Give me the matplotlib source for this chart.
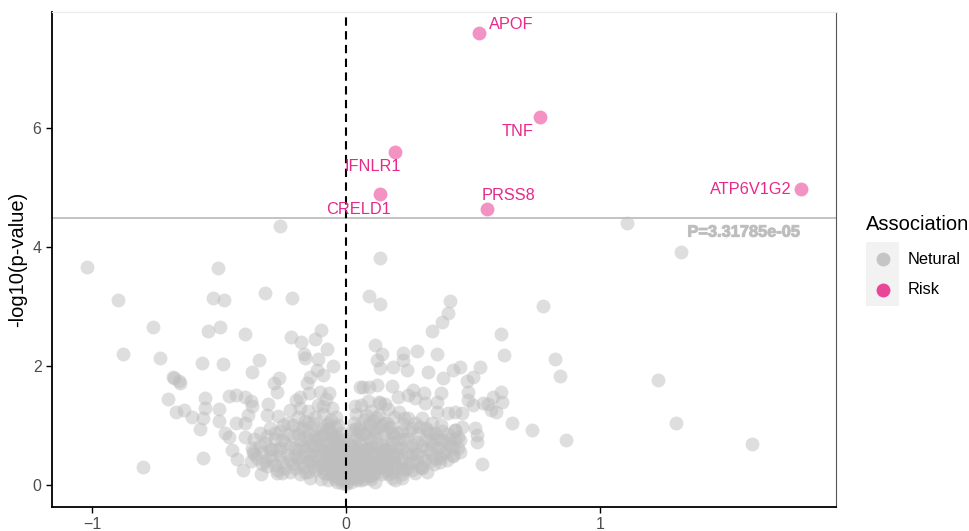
import matplotlib.pyplot as plt
from matplotlib.lines import Line2D
from matplotlib.patches import Rectangle
import matplotlib.patheffects as pe
import numpy as np

plt.rcParams['font.family'] = ['Liberation Sans', 'DejaVu Sans']

# genes passing the threshold
risk_genes = ["APOF", "TNF", "IFNLR1", "CRELD1", "PRSS8", "ATP6V1G2"]
risk_x = [0.524, 0.764, 0.193, 0.134, 0.555, 1.791]
risk_y = [7.60, 6.18, 5.60, 4.89, 4.64, 4.97]

# everything else (effect size, -log10 p)
neutral_x = [
    -1.02, -0.504, -0.898, -0.524, -0.480, -0.760, -0.543, -0.496, -0.878, -0.732,
    -0.567, -0.484, -0.681, -0.657, -0.260, -0.318, -0.211, -0.396, -0.217, -0.176,
    -0.100, -0.122, -0.165, -0.161, -0.075, -0.109, -0.050, -0.341, -0.370, -0.265,
    -0.283, -0.270, -0.155, -0.142, -0.115, -0.089, -0.678, -0.654, -0.701, -0.554,
    -0.667, -0.639, -0.607, -0.562, -0.500, -0.553, -0.500, -0.575, -0.459, -0.434,
    -0.396, -0.369, -0.375, -0.308, -0.433, -0.396, -0.384, -0.475, -0.459, -0.398,
    -0.450, -0.428, -0.562, -0.799, -0.404, -0.335, -0.273, -0.375, -0.365, -0.330,
    -0.312, -0.266, -0.247, -0.220, -0.197, -0.181, -0.144, -0.102, -0.066,
    # right of zero
    0.134, 0.091, 0.136, 0.409, 0.403, 0.379, 0.337, 0.777, 0.610, 0.622,
    0.823, 0.843, 0.865, 0.534, 0.731, 0.655, 0.610, 0.613, 0.580, 0.560,
    0.591, 0.570, 0.528, 0.501, 0.475, 0.449, 0.423, 0.383, 0.360, 0.324,
    0.278, 0.223, 0.239, 0.226, 0.186, 0.140, 0.114, 0.121, 0.136, 0.180,
    0.121, 0.091, 0.068, 0.055, 0.244, 0.376, 0.357, 0.309, 0.311, 0.265,
    0.272, 0.206, 0.154, 0.130, 0.035, 0.482, 0.482, 0.501, 0.540, 0.455,
    0.429, 0.403, 0.357, 0.508, 0.514, 0.514, 0.455, 0.429, 0.449, 0.423,
    0.396, 0.370, 0.337, 0.298, 0.219, 0.193,
    1.227, 1.301, 1.598, 1.106, 1.318,
    # dense core, left
    -0.37, -0.36, -0.35, -0.34, -0.33, -0.32, -0.31, -0.30, -0.30, -0.29,
    -0.28, -0.27, -0.27, -0.26, -0.25, -0.24, -0.23, -0.23, -0.22, -0.21,
    -0.21, -0.20, -0.19, -0.19, -0.18, -0.18, -0.17, -0.17, -0.16, -0.15,
    -0.15, -0.14, -0.14, -0.13, -0.13, -0.12, -0.12, -0.11, -0.11, -0.10,
    -0.10, -0.095, -0.09, -0.09, -0.085, -0.08, -0.08, -0.075, -0.07, -0.07,
    -0.065, -0.06, -0.06, -0.055, -0.05, -0.05, -0.045, -0.04, -0.04, -0.035,
    -0.035, -0.03, -0.03, -0.025, -0.02, -0.02, -0.015, -0.015, -0.01, -0.01,
    -0.005, -0.005,
    -0.36, -0.34, -0.32, -0.31, -0.29, -0.28, -0.26, -0.25, -0.24, -0.22,
    -0.21, -0.20, -0.19, -0.18, -0.17, -0.16, -0.16, -0.15, -0.14, -0.13,
    -0.12, -0.11, -0.10, -0.10, -0.09, -0.08, -0.08, -0.07, -0.06, -0.06,
    -0.05, -0.05, -0.04, -0.04, -0.03, -0.03, -0.02, -0.02, -0.01, -0.01,
    -0.30, -0.28, -0.26, -0.25, -0.23, -0.22, -0.20, -0.19, -0.18, -0.17,
    -0.16, -0.15, -0.14, -0.13, -0.12, -0.11, -0.10, -0.09, -0.085, -0.08,
    -0.07, -0.065, -0.06, -0.05, -0.045, -0.04, -0.035, -0.03, -0.025, -0.02,
    -0.015, -0.01, -0.005, -0.18, -0.15, -0.12, -0.09, -0.07, -0.04, -0.02,
    # dense core, right
    0.005, 0.01, 0.015, 0.02, 0.02, 0.025, 0.03, 0.03, 0.035, 0.04,
    0.04, 0.045, 0.05, 0.05, 0.055, 0.06, 0.06, 0.065, 0.07, 0.07,
    0.075, 0.08, 0.08, 0.085, 0.09, 0.09, 0.095, 0.10, 0.10, 0.105,
    0.11, 0.115, 0.12, 0.12, 0.125, 0.13, 0.135, 0.14, 0.14, 0.145,
    0.15, 0.155, 0.16, 0.16, 0.165, 0.17, 0.175, 0.18, 0.18, 0.19,
    0.19, 0.20, 0.20, 0.21, 0.21, 0.22, 0.22, 0.225, 0.23, 0.24,
    0.24, 0.245, 0.25, 0.26, 0.26, 0.27, 0.27, 0.28, 0.285, 0.29,
    0.30, 0.30, 0.31, 0.315, 0.32, 0.33, 0.33, 0.34, 0.345, 0.35,
    0.36, 0.37, 0.375, 0.38, 0.39, 0.40, 0.41, 0.42, 0.43, 0.44,
    0.45,
    0.01, 0.02, 0.03, 0.04, 0.05, 0.05, 0.06, 0.07, 0.07, 0.08,
    0.09, 0.10, 0.10, 0.11, 0.12, 0.13, 0.13, 0.14, 0.15, 0.16,
    0.17, 0.17, 0.18, 0.19, 0.20, 0.21, 0.22, 0.23, 0.24, 0.25,
    0.26, 0.27, 0.28, 0.29, 0.30, 0.31, 0.32, 0.33, 0.35, 0.36,
    0.37, 0.38, 0.40, 0.42, 0.44,
    0.005, 0.01, 0.015, 0.02, 0.025, 0.03, 0.035, 0.04, 0.045, 0.05,
    0.055, 0.06, 0.065, 0.07, 0.075, 0.08, 0.085, 0.09, 0.095, 0.10,
    0.105, 0.11, 0.12, 0.125, 0.13, 0.14, 0.15, 0.155, 0.16, 0.17,
    0.18, 0.19, 0.20, 0.21, 0.22, 0.23, 0.25, 0.26, 0.28, 0.30,
    0.32, 0.34, 0.36, 0.38, 0.41, 0.43, 0.02, 0.06, 0.10, 0.14,
    0.18, 0.22, 0.26,
    # around zero
    -0.08, -0.06, -0.05, -0.04, -0.03, -0.02, -0.01, 0.0, 0.01, 0.02,
    0.03, 0.04, 0.05, 0.06, 0.08, 0.09, 0.11, 0.12, 0.14, 0.15,
    -0.12, -0.14, 0.16, 0.18,
]
neutral_y = [
    3.66, 3.65, 3.11, 3.14, 3.11, 2.66, 2.59, 2.66, 2.20, 2.13,
    2.05, 2.03, 1.82, 1.75, 4.35, 3.22, 3.15, 2.53, 2.49, 2.40,
    2.61, 2.45, 2.21, 2.13, 2.29, 2.12, 2.00, 2.10, 1.90, 1.79,
    1.72, 1.56, 1.71, 1.82, 1.93, 1.85, 1.79, 1.72, 1.44, 1.47,
    1.23, 1.26, 1.14, 1.12, 1.28, 1.30, 1.07, 0.94, 1.50, 1.52,
    1.48, 1.33, 1.41, 1.36, 1.05, 1.04, 1.17, 0.87, 0.81, 0.81,
    0.59, 0.43, 0.46, 0.30, 0.26, 0.18, 0.20, 0.40, 0.56, 0.36,
    1.18, 1.16, 1.01, 1.26, 1.43, 1.48, 1.54, 1.57, 1.54,
    # right of zero
    3.82, 3.18, 3.05, 3.09, 2.89, 2.74, 2.59, 3.01, 2.53, 2.18,
    2.12, 1.83, 0.76, 0.35, 0.93, 1.05, 1.56, 1.40, 1.48, 1.36,
    1.23, 1.26, 1.99, 1.81, 1.74, 1.98, 1.93, 1.79, 2.21, 1.90,
    2.26, 2.22, 1.93, 2.10, 1.98, 2.21, 2.35, 2.10, 1.96, 1.66,
    1.68, 1.65, 1.64, 1.65, 1.51, 1.55, 1.40, 1.55, 1.38, 1.60,
    1.46, 1.48, 1.36, 1.40, 1.32, 1.57, 1.43, 1.34, 1.38, 1.21,
    1.23, 1.21, 1.23, 0.95, 0.84, 0.73, 0.98, 0.92, 0.76, 0.48,
    0.42, 0.39, 0.42, 0.28, 0.11, 0.08,
    1.76, 1.04, 0.69, 4.41, 3.91,
    # dense core, left
    0.62, 0.78, 0.45, 0.88, 0.55, 0.70, 0.32, 0.95, 0.60, 0.42,
    0.78, 0.25, 0.58, 0.90, 0.38, 0.70, 0.50, 1.05, 0.22, 0.82,
    0.35, 0.62, 1.15, 0.45, 0.18, 0.75, 0.95, 0.30, 0.58, 1.25,
    0.40, 0.12, 0.85, 0.65, 1.05, 0.25, 0.48, 1.35, 0.78, 0.10,
    0.35, 0.95, 0.58, 1.20, 0.20, 1.45, 0.72, 0.42, 0.08, 1.05,
    0.30, 0.85, 0.55, 1.30, 0.15, 0.65, 0.40, 0.95, 1.15, 0.05,
    0.25, 0.75, 0.50, 0.12, 0.35, 0.88, 0.03, 0.60, 0.20, 0.45,
    0.08, 0.30,
    0.52, 0.66, 0.40, 0.82, 0.60, 0.33, 0.48, 0.76, 0.28, 0.64,
    1.00, 0.48, 0.86, 0.38, 0.66, 0.22, 1.08, 0.75, 0.52, 0.32,
    0.92, 0.58, 0.82, 0.50, 0.28, 1.00, 0.55, 0.68, 0.18, 1.10,
    0.42, 0.82, 0.28, 0.60, 0.15, 1.00, 0.55, 0.22, 0.68, 0.12,
    0.48, 0.88, 0.62, 0.20, 0.85, 0.42, 0.28, 0.60, 0.95, 0.48,
    0.80, 0.22, 0.65, 0.42, 1.15, 0.30, 0.70, 0.85, 0.40, 0.20,
    0.58, 0.95, 0.32, 0.78, 0.10, 0.48, 0.68, 0.25, 0.62, 0.45,
    0.35, 0.78, 0.18, 1.30, 1.05, 0.82, 1.32, 0.92, 0.82, 0.65,
    # dense core, right
    0.05, 0.25, 0.55, 0.12, 0.85, 0.40, 1.05, 0.18, 0.65, 0.30,
    1.20, 0.08, 0.50, 0.90, 0.22, 1.35, 0.70, 0.40, 0.10, 1.10,
    0.58, 0.30, 0.88, 1.42, 0.45, 0.15, 1.00, 0.65, 1.25, 0.28,
    0.80, 0.05, 0.52, 1.15, 0.35, 0.95, 1.38, 0.18, 0.68, 0.42,
    1.05, 0.85, 0.25, 0.58, 1.28, 0.40, 0.98, 0.12, 0.72, 1.15,
    0.50, 0.30, 0.88, 1.22, 0.62, 0.18, 0.42, 1.02, 0.78, 0.55,
    0.28, 1.12, 0.90, 0.38, 0.68, 0.20, 1.05, 0.52, 0.85, 0.30,
    1.12, 0.65, 0.42, 0.95, 0.22, 0.75, 0.55, 1.05, 0.35, 0.88,
    0.62, 0.45, 1.00, 0.75, 0.55, 0.85, 0.65, 0.50, 0.78, 0.62,
    0.55,
    0.15, 0.65, 0.35, 0.95, 0.20, 0.72, 0.45, 0.85, 0.25, 0.60,
    1.05, 0.40, 0.15, 0.92, 0.70, 0.28, 1.18, 0.55, 0.32, 0.75,
    0.18, 0.95, 0.48, 0.82, 0.62, 0.38, 0.90, 0.25, 0.78, 0.48,
    0.95, 0.62, 0.40, 0.98, 0.30, 0.75, 0.60, 0.88, 0.45, 0.78,
    0.62, 0.90, 0.70, 0.62, 0.80,
    0.38, 0.70, 0.20, 0.48, 0.92, 0.60, 0.28, 0.80, 0.52, 0.32,
    0.98, 0.15, 0.85, 0.50, 0.28, 1.18, 0.62, 0.35, 0.78, 0.50,
    1.08, 0.20, 0.88, 0.62, 0.45, 1.00, 0.60, 0.38, 1.05, 0.62,
    0.88, 0.38, 0.50, 0.78, 0.62, 1.12, 0.35, 0.52, 0.72, 0.48,
    0.92, 0.68, 0.82, 0.52, 0.78, 0.92, 0.05, 0.08, 0.10, 0.32,
    0.22, 0.28, 0.25,
    # around zero
    0.35, 0.48, 0.22, 0.70, 0.38, 0.10, 0.55, 0.02, 0.40, 0.30,
    0.50, 0.12, 0.35, 0.58, 0.45, 0.62, 0.20, 0.38, 0.48, 0.22,
    0.65, 0.42, 0.52, 0.30,
]

p_cut = 3.31785e-05
pink = '#E7298A'
grey = '#BEBEBE'

fig = plt.figure(figsize=(9.69, 5.31), dpi=100)
ax = fig.add_axes([52 / 969, 24 / 531, 784 / 969, 495 / 531])

ax.scatter(neutral_x, neutral_y, s=100, c=grey, alpha=0.5, linewidths=0, zorder=2)
ax.scatter(risk_x, risk_y, s=100, c=pink, alpha=0.5, linewidths=0, zorder=3)

ax.axhline(-np.log10(p_cut), color='#BEBEBE', lw=1.3, zorder=1)
ax.axvline(0, color='black', lw=1.5, ls=(0, (4, 2.6)), zorder=4)

# gene labels
offsets = {
    "APOF": (10, 8, 'left'),
    "TNF": (-22, -14, 'center'),
    "IFNLR1": (-22, -15, 'center'),
    "CRELD1": (-22, -15, 'center'),
    "PRSS8": (22, 13, 'center'),
    "ATP6V1G2": (-9, 0, 'right'),
}
for g, x, y in zip(risk_genes, risk_x, risk_y):
    dx, dy, ha = offsets[g]
    ax.annotate(g, (x, y), xytext=(dx, dy), textcoords='offset pixels',
                ha=ha, va='center', color=pink, fontsize=11.8, zorder=5)

ax.text(1.787, 4.25, "P=3.31785e-05", ha='right', va='center', color='#BDBDBD',
        fontsize=11.8, fontweight='bold',
        path_effects=[pe.withStroke(linewidth=0.8, foreground='#C4C4C4')])

ax.set_xlim(-1.157, 1.929)
ax.set_ylim(-0.37, 7.95)
ax.set_xticks([-1, 0, 1])
ax.set_yticks([0, 2, 4, 6])
ax.tick_params(colors='black', labelcolor='#4D4D4D', labelsize=11.5, length=4, width=1)
ax.set_ylabel("-log10(p-value)", fontsize=14.5)
ax.yaxis.set_label_coords(-0.032, 0.5)

for side in ('left', 'bottom'):
    ax.spines[side].set_linewidth(1.3)
ax.spines['top'].set_color('#EBEBEB')
ax.spines['top'].set_linewidth(0.8)
ax.spines['right'].set_color('#555555')
ax.spines['right'].set_linewidth(0.8)

# legend
fig.text(866 / 969, 1 - 225 / 531, "Association", fontsize=14.5, va='center', ha='left')
fig.add_artist(Rectangle((866 / 969, 1 - 306 / 531), 33 / 969, 64 / 531,
                         transform=fig.transFigure, color='#F2F2F2', lw=0))
for i, (lab, col) in enumerate([("Netural", grey), ("Risk", pink)]):
    yy = 1 - (259 + 31 * i) / 531
    fig.add_artist(Line2D([883 / 969], [yy], marker='o', markersize=10, color=col,
                          alpha=0.85, markeredgewidth=0, transform=fig.transFigure))
    fig.text(908 / 969, yy, lab, fontsize=11.8, va='center', ha='left')

fig.savefig("out.png", dpi=100)
